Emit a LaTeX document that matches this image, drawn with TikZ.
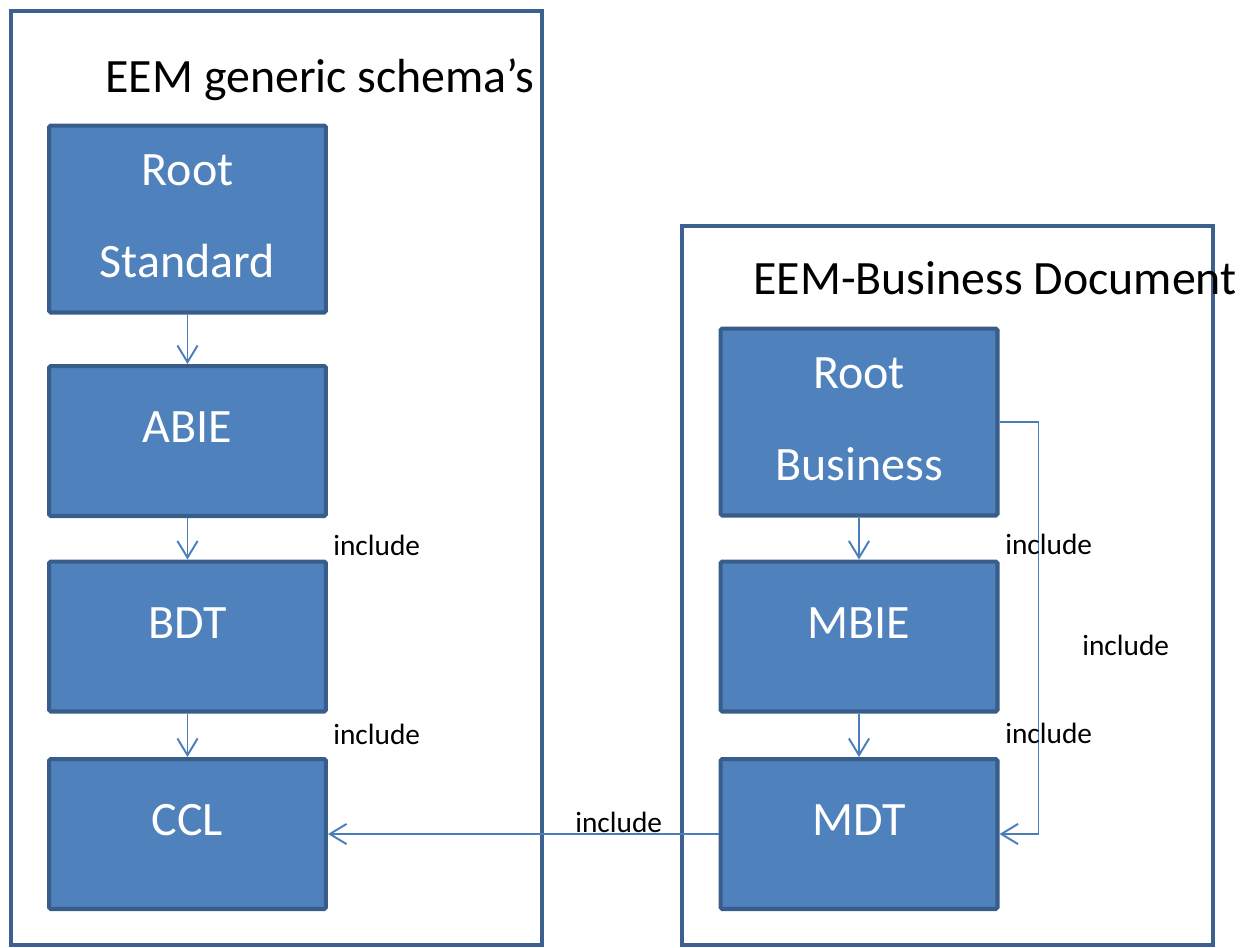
\documentclass[tikz,border=0pt]{standalone}
\usepackage{fontspec}
\setmainfont{Carlito}
\usepackage{tikz}
\usetikzlibrary{arrows.meta,positioning,calc}

\definecolor{frameblue}{RGB}{60,96,143}
\definecolor{boxfill}{RGB}{79,129,189}
\definecolor{boxline}{RGB}{56,93,138}
\definecolor{arrblue}{RGB}{74,126,187}

\begin{document}
\begin{tikzpicture}[
    x=0.02cm, y=-0.02cm,
    frame/.style={draw=frameblue, line width=2.3pt},
    block/.style={draw=boxline, line width=2.3pt, fill=boxfill, rounded corners=1pt, minimum width=5.54cm, minimum height=3cm, align=center, text=white, font=\fontsize{27.3}{52.7}\selectfont},
    single/.style={text depth=15.8pt},
    tworow/.style={minimum height=3.74cm, text depth=3.4pt},
    title/.style={font=\fontsize{27.25}{32}\selectfont, inner sep=0pt},
    incl/.style={font=\fontsize{16.7}{19}\selectfont, inner sep=0pt, anchor=base west},
    arr/.style={-{Straight Barb[length=9.5pt,width=11.5pt]}, draw=arrblue, line width=1.1pt}
]
\useasboundingbox (0,0) rectangle (1250,947);

% frames
\draw[frame] (11,11) rectangle (542,945);
\draw[frame] (682,226) rectangle (1213,945);
\node[title, anchor=base east] (gen) at (535,92) {EEM generic schema’s};
\node[title, anchor=base west] (bus) at (753,294) {EEM-Business Document};

% generic schema's
\node[block, tworow] (rootstd) at (187.5,219) {Root\\Standard};
\node[block, single] (abie) at (187.5,441) {ABIE};
\node[block, single] (bdt) at (187.5,636.5) {BDT};
\node[block, single] (ccl) at (187.5,834) {CCL};

% business document
\node[block, tworow] (rootbus) at (859,422) {Root\\Business};
\node[block, single] (mbie) at (859,636.5) {MBIE};
\node[block, single] (mdt) at (859,834) {MDT};

\draw[arr] (rootstd) -- (abie);
\draw[arr] (abie) -- (bdt);
\draw[arr] (bdt) -- (ccl);
\draw[arr] (rootbus) -- (mbie);
\draw[arr] (mbie) -- (mdt);
\draw[arr] (rootbus.east) -- ++(39,0) |- (mdt.east);
\draw[arr] (mdt.west) -- (ccl.east);

\node[incl] (i1) at (333,555) {include};
\node[incl] (i2) at (333,744) {include};
\node[incl] (i3) at (1005,554) {include};
\node[incl] (i4) at (1082,655) {include};
\node[incl] (i5) at (1005,743) {include};
\node[incl] (i6) at (575,832) {include};
\end{tikzpicture}
\end{document}
